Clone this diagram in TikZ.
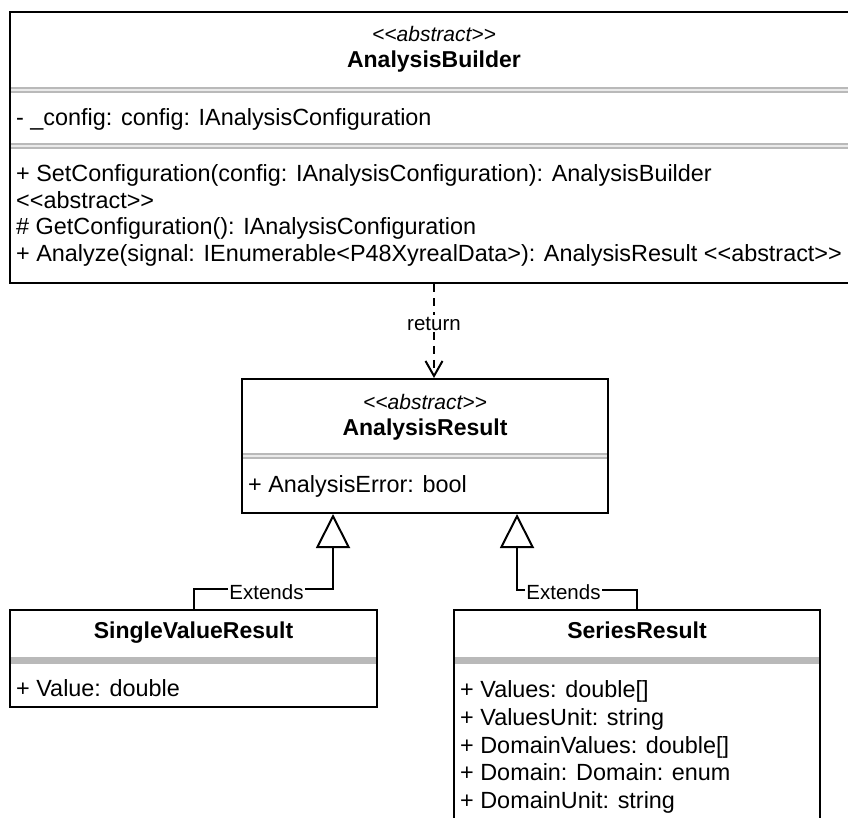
\documentclass[tikz,border=0pt]{standalone}
\usepackage{fontspec}
\setmainfont{Liberation Sans}
\usetikzlibrary{arrows.meta,calc}
\newcommand{\myll}{<\kern0pt<}
\newcommand{\mygg}{>\kern0pt>}
\definecolor{bandgray}{RGB}{185,185,185}
\begin{document}
\begin{tikzpicture}[x=1pt,y=-1pt,
  box/.style={draw=black,line width=2pt,rectangle,inner sep=0pt,fill=white},
  txt/.style={inner sep=0pt,anchor=base west,font=\fontsize{23.4}{27}\selectfont},
  cname/.style={inner sep=0pt,anchor=base,font=\fontsize{23}{27}\selectfont\bfseries},
  stereo/.style={inner sep=0pt,anchor=base,font=\fontsize{21}{25}\selectfont\itshape},
  lbl/.style={inner sep=1.5pt,anchor=base,fill=white,font=\fontsize{20.5}{24}\selectfont},
  band/.style={fill=bandgray},
  dbl/.style={draw=white!70!bandgray,line width=1.4pt},
  conn/.style={line width=2pt},
  depline/.style={conn,dash pattern=on 8pt off 6pt}
]
\useasboundingbox (0,0) rectangle (848,818);
\clip (0,0) rectangle (848,818);
\fill[white] (0,0) rectangle (848,818);

% boxes
\node[box,minimum width=848pt,minimum height=271pt] (AB) at (434,147.5) {};
\node[box,minimum width=366pt,minimum height=134pt] (AR) at (425,446) {};
\node[box,minimum width=367pt,minimum height=97pt] (SV) at (193.5,658.5) {};
\node[box,minimum width=366pt,minimum height=220pt] (SR) at (637,720) {};

% dividers
\fill[band] (11,87) rectangle (857,93);
\draw[dbl] (11,90) -- (857,90);
\fill[band] (11,143) rectangle (857,149);
\draw[dbl] (11,146) -- (857,146);
\fill[band] (243,453) rectangle (607,459);
\draw[dbl] (243,456) -- (607,456);
\fill[band] (11,657) rectangle (376,664);
\fill[band] (455,657) rectangle (819,664);

% AnalysisBuilder texts
\node[stereo] (ABs) at (434,42) {\myll abstract\mygg};
\node[cname] (ABn) at (434,68) {AnalysisBuilder};
\node[txt] (ABa) at (16,126) {- \_config: config: IAnalysisConfiguration};
\node[txt] (ABm1) at (16,182) {+ SetConfiguration(config: IAnalysisConfiguration): AnalysisBuilder};
\node[txt] (ABm2) at (16,208.5) {\myll abstract\mygg};
\node[txt] (ABm3) at (16,235) {\# GetConfiguration(): IAnalysisConfiguration};
\node[txt] (ABm4) at (16,261.5) {+ Analyze(signal: IEnumerable<P48XyrealData>): AnalysisResult \myll abstract\mygg};

% AnalysisResult texts
\node[stereo] (ARs) at (425,409) {\myll abstract\mygg};
\node[cname] (ARn) at (425,435) {AnalysisResult};
\node[txt] (ARa) at (248,492) {+ AnalysisError: bool};

% SingleValueResult texts
\node[cname] (SVn) at (193.5,638) {SingleValueResult};
\node[txt] (SVa) at (16,696) {+ Value: double};

% SeriesResult texts
\node[cname] (SRn) at (637,638) {SeriesResult};
\node[txt] (SRa1) at (460,697) {+ Values: double[]};
\node[txt] (SRa2) at (460,725) {+ ValuesUnit: string};
\node[txt] (SRa3) at (460,753) {+ DomainValues: double[]};
\node[txt] (SRa4) at (460,780.5) {+ Domain: Domain: enum};
\node[txt] (SRa5) at (460,808) {+ DomainUnit: string};

% return dependency (label interrupts the dashed line)
\node[lbl] (ret) at (434,330) {return};
\draw[depline] (AB.south) -- (ret.north);
\draw[depline,-{Straight Barb[length=15pt,width=17pt]}] (ret.south) -- (ret.south |- AR.north);

% generalisations
\coordinate (t1) at ($(AR.south west)!0.25!(AR.south east)$);
\coordinate (t2) at ($(AR.south west)!0.75!(AR.south east)$);
\draw[conn,-{Triangle[open,length=34pt,width=34pt]}] (SV.north) -- ++(0,-20) -| (t1);
\draw[conn,-{Triangle[open,length=34pt,width=34pt]}] (SR.north) -- ++(0,-19) -| (t2);
\node[lbl] (e1) at (266.5,599) {Extends};
\node[lbl] (e2) at (563.5,599) {Extends};
\end{tikzpicture}
\end{document}
